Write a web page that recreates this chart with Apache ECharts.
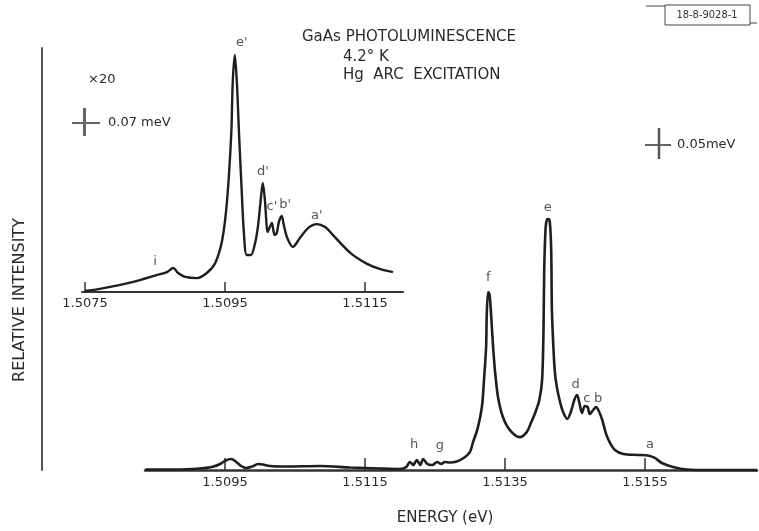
<!DOCTYPE html>
<html>
<head>
<meta charset="utf-8">
<script src="https://cdn.jsdelivr.net/npm/echarts@6.0.0/dist/echarts.min.js"></script>
<style>
html,body{margin:0;padding:0;background:#fff;}
#chart{width:759px;height:531px;}
</style>
</head>
<body>
<div id="chart"></div>
<script>
// ---- Main spectrum (relative intensity, e peak = 100) ----
const mainEnergy = [1.50836,1.50879,1.50914,1.50931,1.50943,1.50951,1.50959,1.50966,1.50973,1.50980,1.50989,1.50997,1.51004,1.51014,1.51036,1.51086,1.51129,1.51171,1.51200,1.51209,1.51214,1.51219,1.51224,1.51229,1.51233,1.51239,1.51246,1.51253,1.51259,1.51264,1.51271,1.51281,1.51293,1.51300,1.51304,1.51311,1.51317,1.51320,1.51323,1.51324,1.51326,1.51328,1.51330,1.51333,1.51336,1.51340,1.51347,1.51357,1.51371,1.51381,1.51387,1.51393,1.51399,1.51403,1.51405,1.51406,1.51408,1.51410,1.51412,1.51414,1.51416,1.51417,1.51419,1.51421,1.51424,1.51429,1.51433,1.51439,1.51444,1.51449,1.51453,1.51456,1.51460,1.51464,1.51468,1.51471,1.51476,1.51480,1.51484,1.51489,1.51494,1.51500,1.51507,1.51519,1.51539,1.51554,1.51564,1.51574,1.51590,1.51610,1.51643,1.51710];
const mainIntensity = [0.2,0.2,0.6,1.2,2.4,3.8,4.4,3.2,1.6,0.8,1.4,2.4,2.2,1.6,1.4,1.6,1.0,0.6,0.4,1.2,3.2,2.0,4.0,2.0,4.4,2.4,2.0,3.2,2.4,3.2,3.0,3.4,5.2,7.2,10.8,16.7,25.1,35.9,49.0,62.5,70.9,69.7,62.5,49.0,38.6,29.1,21.1,15.9,13.1,15.1,18.7,22.7,27.9,35.9,55.8,79.7,96.4,99.8,100,98.8,87.6,63.7,49.8,39.8,33.1,26.7,23.1,20.3,23.1,27.9,29.9,27.1,22.7,25.5,25.1,22.3,23.9,25.1,23.5,19.9,14.7,10.8,8.0,6.4,6.0,5.8,4.8,2.8,1.2,0.2,0,0];
const mainTicks = [1.5095,1.5115,1.5135,1.5155];
const mainLabelNames = ['e','f','d','c','b','a','h','g'];
const mainLabelEnergy = [1.51411,1.51326,1.51451,1.51467,1.51483,1.51557,1.51220,1.51257];
const mainLabelIntensity = [104.4,76.5,33.9,28.3,28.3,10.0,10.0,9.6];

// ---- Inset spectrum (x20, e' peak = 100) ----
const insetEnergy = [1.50750,1.50771,1.50819,1.50853,1.50867,1.50876,1.50883,1.50893,1.50910,1.50924,1.50936,1.50946,1.50953,1.50959,1.50961,1.50964,1.50967,1.50970,1.50974,1.50977,1.50981,1.50987,1.50993,1.50997,1.51001,1.51004,1.51007,1.51011,1.51014,1.51017,1.51019,1.51021,1.51024,1.51027,1.51031,1.51034,1.51039,1.51047,1.51057,1.51069,1.51081,1.51093,1.51104,1.51129,1.51153,1.51171,1.51190];
const insetIntensity = [0.4,1.3,4.2,7.1,8.3,10.0,7.9,6.3,5.8,7.9,12.1,21.7,38.3,66.3,87.1,98.8,87.1,66.3,41.3,24.6,15.4,15.4,20.4,27.1,38.3,45.4,38.3,25.0,27.1,28.8,25.8,23.8,24.6,29.2,31.7,27.9,22.5,18.8,22.5,26.7,28.3,27.1,23.8,16.3,11.7,9.6,8.3];
const insetTicks = [1.5075,1.5095,1.5115];
const insetLabelNames = ["e'","d'","c'","b'","a'","i"];
const insetLabelEnergy = [1.50974,1.51004,1.51017,1.51036,1.51081,1.50850];
const insetLabelIntensity = [103.8,50.0,35.4,36.3,31.7,12.5];

const INK = '#1e1e1e';
const TXT = '#2a2a2a';
const FONT = 'DejaVu Sans';

function pairs(xs, ys){ return xs.map((x,i)=>[x, ys[i]]); }

const chart = echarts.init(document.getElementById('chart'), null, {renderer:'canvas'});
const option = {
  backgroundColor:'#ffffff',
  animation:false,
  grid:[
    {left:145, right:2, top:48, bottom:61, containLabel:false},
    {left:82, width:321, top:52, bottom:239, containLabel:false}
  ],
  xAxis:[
    {
      type:'value', gridIndex:0, min:1.508357, max:1.5171,
      splitLine:{show:false},
      axisLine:{show:true, onZero:false, lineStyle:{color:'#333', width:2.5}},
      axisTick:{show:true, inside:true, length:12, customValues:mainTicks, lineStyle:{color:'#333', width:1.5}},
      axisLabel:{show:true, margin:6, customValues:mainTicks, formatter:v=>v.toFixed(4), color:TXT, fontFamily:FONT, fontSize:13},
      name:'ENERGY (eV)', nameLocation:'middle', nameGap:41,
      nameTextStyle:{color:TXT, fontFamily:FONT, fontSize:15, padding:[0,12,0,0]}
    },
    {
      type:'value', gridIndex:1, min:1.507457, max:1.512043,
      splitLine:{show:false},
      axisLine:{show:true, onZero:false, lineStyle:{color:'#333', width:2}},
      axisTick:{show:true, inside:true, length:10, customValues:insetTicks, lineStyle:{color:'#333', width:1.5}},
      axisLabel:{show:true, margin:5, customValues:insetTicks, formatter:v=>v.toFixed(4), color:TXT, fontFamily:FONT, fontSize:13}
    }
  ],
  yAxis:[
    {
      type:'value', gridIndex:0, min:0, max:168.1, offset:103,
      splitLine:{show:false},
      axisLine:{show:true, lineStyle:{color:'#555', width:2}},
      axisTick:{show:false}, axisLabel:{show:false}
    },
    {
      type:'value', gridIndex:1, min:0, max:100,
      splitLine:{show:false}, axisLine:{show:false}, axisTick:{show:false}, axisLabel:{show:false}
    }
  ],
  series:[
    {
      type:'line', xAxisIndex:0, yAxisIndex:0, data:pairs(mainEnergy, mainIntensity),
      showSymbol:false, smooth:0.3,
      lineStyle:{color:INK, width:2.6}, clip:false
    },
    {
      type:'line', xAxisIndex:1, yAxisIndex:1, data:pairs(insetEnergy, insetIntensity),
      showSymbol:false, smooth:0.3,
      lineStyle:{color:INK, width:2.4}, clip:false
    },
    {
      type:'scatter', xAxisIndex:0, yAxisIndex:0, symbolSize:0, clip:false, silent:true,
      data:mainLabelEnergy.map((e,i)=>({value:[e, mainLabelIntensity[i]], name:mainLabelNames[i]})),
      label:{show:true, position:'inside', formatter:p=>p.name, color:TXT, fontFamily:FONT, fontSize:13}
    },
    {
      type:'scatter', xAxisIndex:1, yAxisIndex:1, symbolSize:0, clip:false, silent:true,
      data:insetLabelEnergy.map((e,i)=>({value:[e, insetLabelIntensity[i]], name:insetLabelNames[i]})),
      label:{show:true, position:'inside', formatter:p=>p.name, color:TXT, fontFamily:FONT, fontSize:13}
    }
  ],
  graphic:[
    {type:'text', x:20, y:300, rotation:Math.PI/2, style:{text:'RELATIVE INTENSITY', x:0, y:0, fill:TXT, font:'16px "DejaVu Sans"', align:'center', textAlign:'center', verticalAlign:'middle', textVerticalAlign:'middle'}},
    {type:'text', style:{text:'GaAs PHOTOLUMINESCENCE', x:302, y:37, fill:TXT, font:'15px "DejaVu Sans"', verticalAlign:'middle', textVerticalAlign:'middle'}},
    {type:'text', style:{text:'4.2° K', x:343, y:57, fill:TXT, font:'15px "DejaVu Sans"', verticalAlign:'middle', textVerticalAlign:'middle'}},
    {type:'text', style:{text:'Hg  ARC  EXCITATION', x:343, y:75, fill:TXT, font:'15px "DejaVu Sans"', verticalAlign:'middle', textVerticalAlign:'middle'}},
    {type:'text', style:{text:'×20', x:88, y:80, fill:TXT, font:'13px "DejaVu Sans"', verticalAlign:'middle', textVerticalAlign:'middle'}},
    {type:'line', shape:{x1:72, y1:123, x2:100, y2:123}, style:{stroke:'#333', lineWidth:1.5}},
    {type:'line', shape:{x1:84.5, y1:108, x2:84.5, y2:136}, style:{stroke:'#666', lineWidth:3}},
    {type:'text', style:{text:'0.07 meV', x:108, y:123, fill:TXT, font:'13px "DejaVu Sans"', verticalAlign:'middle', textVerticalAlign:'middle'}},
    {type:'line', shape:{x1:645, y1:145, x2:671, y2:145}, style:{stroke:'#333', lineWidth:1.5}},
    {type:'line', shape:{x1:659, y1:128, x2:659, y2:159}, style:{stroke:'#555', lineWidth:2.5}},
    {type:'text', style:{text:'0.05meV', x:677, y:145, fill:TXT, font:'13px "DejaVu Sans"', verticalAlign:'middle', textVerticalAlign:'middle'}},
    {type:'line', shape:{x1:646, y1:6, x2:665, y2:6}, style:{stroke:'#444', lineWidth:1}},
    {type:'rect', shape:{x:665, y:5, width:85, height:20}, style:{stroke:'#444', fill:'none', lineWidth:1}},
    {type:'line', shape:{x1:750, y1:23, x2:757, y2:23}, style:{stroke:'#444', lineWidth:1}},
    {type:'text', style:{text:'18-8-9028-1', x:707, y:15, fill:'#333', font:'11px "DejaVu Sans Condensed", "DejaVu Sans"', align:'center', textAlign:'center', verticalAlign:'middle', textVerticalAlign:'middle'}}
  ]
};
chart.setOption(option);
</script>
</body>
</html>
